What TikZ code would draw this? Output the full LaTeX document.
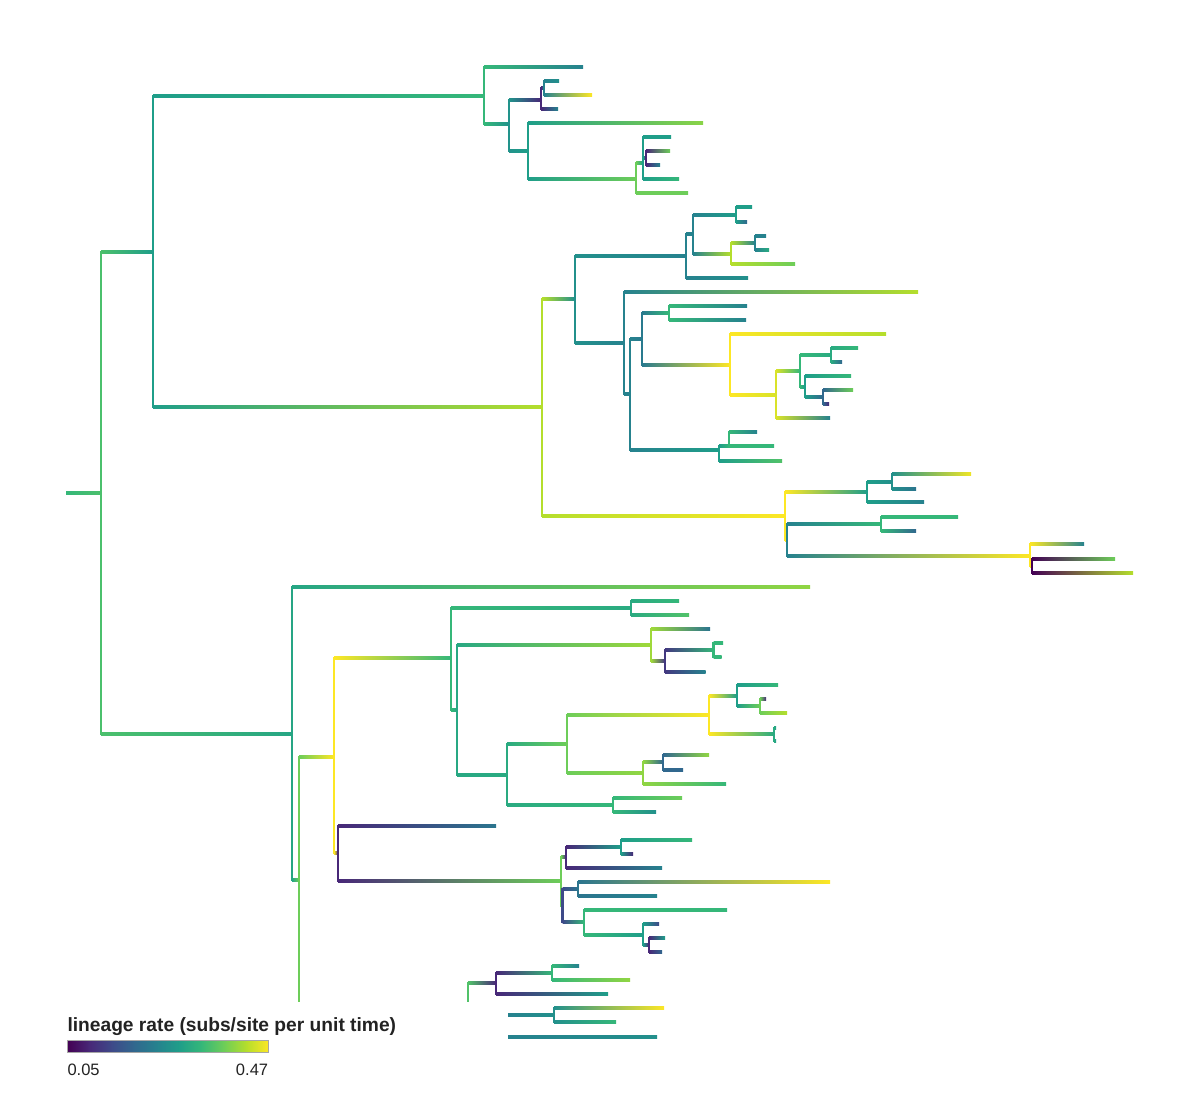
\documentclass[tikz,border=0pt]{standalone}
\usepackage{fontspec}
\setmainfont{Liberation Sans}
\usetikzlibrary{calc}
\definecolor{V0}{HTML}{440154}
\definecolor{V1}{HTML}{482878}
\definecolor{V2}{HTML}{3E4A89}
\definecolor{V3}{HTML}{31688E}
\definecolor{V4}{HTML}{26828E}
\definecolor{V5}{HTML}{1F9E89}
\definecolor{V6}{HTML}{35B779}
\definecolor{V7}{HTML}{6DCD59}
\definecolor{V8}{HTML}{B4DE2C}
\definecolor{V9}{HTML}{FDE725}
\definecolor{txt}{HTML}{222222}
\newcommand{\tn}[4]{\coordinate (#1) at (#2,#3);\colorlet{col-#1}{#4}}
\newcommand{\br}[2]{\draw[line width=2.2pt,color=col-#1,line cap=rect] (#1) -- (#1|-#2);%
\shade[left color=col-#1,right color=col-#2] ($(#1|-#2)+(0,-1.1)$) rectangle ($(#2)+(0,1.1)$);}
\newcommand{\vb}[2]{\draw[line width=2.2pt,color=col-#1,line cap=rect] (#1) -- (#2);}
\begin{document}
\begin{tikzpicture}[x=1pt,y=-1pt]
\useasboundingbox (0,0) rectangle (1200,1104);
% ---------- nodes ----------
\tn{root0}{66}{493}{V6}
\tn{r}{101}{493}{V6!60!V7}
\tn{a}{153}{252}{V5}
\tn{a1}{484}{96}{V6}
\tn{t1}{583}{67}{V4}
\tn{a1b}{509}{124}{V5!60!V4}
\tn{a1b1}{541}{100}{V1}
\tn{n544}{544}{88}{V4}
\tn{t2}{559}{81}{V4!50!V5}
\tn{t3}{592}{95}{V9}
\tn{t4}{558}{109}{V4}
\tn{a1b2}{528}{151}{V5}
\tn{t5}{703}{123}{V7!60!V8}
\tn{n636}{636}{179}{V7}
\tn{n643}{643}{163}{V5}
\tn{t6}{671}{137}{V5}
\tn{n646}{646}{158}{V1}
\tn{t7}{670}{151}{V7}
\tn{t8}{660}{165}{V4}
\tn{t9}{679}{179}{V6}
\tn{t10}{688}{193}{V7}
\tn{a2}{542}{407}{V8}
\tn{a2a}{575}{299}{V4!50!V5}
\tn{a2a1}{686}{256}{V4}
\tn{t11}{748}{278}{V4!50!V5}
\tn{n693}{693}{234}{V4}
\tn{n736}{736}{215}{V5}
\tn{t12}{752}{207}{V5}
\tn{t13}{747}{222}{V3}
\tn{n731}{731}{254}{V8}
\tn{n755}{755}{243}{V4}
\tn{t14}{766}{236}{V4}
\tn{t15}{769}{250}{V5!50!V6}
\tn{t16}{795}{264}{V7}
\tn{a2a2}{624}{343}{V4}
\tn{t17}{918}{292}{V8}
\tn{n630}{630}{394}{V4}
\tn{n642}{642}{339}{V4!70!V3}
\tn{n669}{669}{313}{V6}
\tn{t18}{747}{306}{V4}
\tn{t19}{746}{320}{V4}
\tn{n730}{730}{365}{V9}
\tn{t20}{886}{334}{V8}
\tn{n776}{776}{395}{V8!50!V9}
\tn{n800}{800}{371}{V6}
\tn{n831}{831}{355}{V5!50!V6}
\tn{t21}{858}{348}{V6}
\tn{t22}{842}{362}{V3}
\tn{n805}{805}{387}{V5}
\tn{t23}{851}{376}{V6}
\tn{n823}{823}{397}{V3}
\tn{t24}{853}{390}{V7}
\tn{t25}{829}{404}{V1}
\tn{t26}{830}{418}{V4}
\tn{n719}{719}{450}{V5}
\tn{n729}{729}{446}{V6}
\tn{t27}{757}{432}{V4}
\tn{t28}{774}{446}{V6}
\tn{t29}{782}{461}{V6!50!V7}
\tn{a2b}{785}{516}{V9}
\tn{n867}{867}{492}{V5}
\tn{n892}{892}{482}{V5!50!V4}
\tn{t30}{971}{474}{V9!80!V8}
\tn{t31}{916}{489}{V3!50!V4}
\tn{t32}{924}{502}{V4}
\tn{n787}{787}{540}{V4}
\tn{n881}{881}{524}{V6}
\tn{t33}{958}{517}{V6}
\tn{t34}{916}{531}{V3}
\tn{n1030}{1030}{556}{V9}
\tn{t35}{1084}{544}{V4}
\tn{n1032}{1032}{566}{V0}
\tn{t36}{1115}{559}{V7}
\tn{t37}{1133}{573}{V8}
\tn{b}{292}{734}{V5!70!V6}
\tn{t38}{810}{587}{V7!50!V8}
\tn{nb2}{299}{880}{V7}
\tn{cutb}{299}{1001}{V7}
\tn{n334}{334}{757}{V9}
\tn{n451}{451}{658}{V6}
\tn{n631}{631}{608}{V5!50!V6}
\tn{t39}{679}{601}{V6}
\tn{t40}{689}{615}{V6!50!V7}
\tn{n457}{457}{710}{V5!60!V6}
\tn{n651}{651}{645}{V8!70!V7}
\tn{t41}{710}{629}{V3!50!V4}
\tn{n665}{665}{661}{V1!50!V2}
\tn{n713}{713.5}{650}{V6}
\tn{t42}{723}{643}{V6}
\tn{t43}{721.5}{657}{V6}
\tn{t44}{705.6}{672}{V4}
\tn{n507}{507}{775}{V5!50!V6}
\tn{n567}{567}{744}{V7}
\tn{n709}{709}{715}{V9}
\tn{n737}{737}{696}{V5}
\tn{t45}{778}{685}{V6}
\tn{n760}{760}{706}{V7}
\tn{t46}{766}{699}{V1}
\tn{t47}{787}{713}{V8}
\tn{n774}{774}{734}{V5!50!V6}
\tn{t48}{776}{728}{V5}
\tn{t49}{776}{741}{V5}
\tn{n643b}{643}{773}{V7!50!V8}
\tn{n663}{663}{762}{V3}
\tn{t50}{709}{755}{V7!50!V8}
\tn{t51}{683}{770}{V3}
\tn{t52}{726}{784}{V6}
\tn{n613}{613}{805}{V6}
\tn{t53}{682}{798}{V7}
\tn{t54}{656}{812}{V4!50!V5}
\tn{n338}{338}{853}{V1}
\tn{t55}{496}{826}{V3!50!V4}
\tn{n561}{561}{881}{V7}
\tn{n566}{566}{857}{V1}
\tn{n621}{621}{847}{V5}
\tn{t56}{692}{840}{V6}
\tn{t57}{633}{854}{V1}
\tn{t58}{662}{868}{V4}
\tn{n562}{562.5}{906}{V2}
\tn{n578}{578}{889}{V3!50!V4}
\tn{t59}{830}{882}{V9}
\tn{t60}{657}{896}{V4}
\tn{n584}{584}{922}{V6}
\tn{t61}{727}{910}{V6}
\tn{n643c}{643}{935}{V5}
\tn{t62}{659}{924}{V2}
\tn{n649}{649}{945}{V1}
\tn{t63}{665}{938}{V5}
\tn{t64}{662}{952}{V3}
\tn{f1}{468}{983}{V6!50!V7}
\tn{f1b}{468}{1001}{V6!50!V7}
\tn{n496}{496}{983}{V1}
\tn{n552}{552}{973}{V6}
\tn{t65}{579}{966}{V4}
\tn{t66}{630}{980}{V7!50!V8}
\tn{t67}{608}{994}{V5}
\tn{f2}{508}{1015}{V4}
\tn{n554}{554}{1015}{V4!50!V5}
\tn{t68}{664}{1008}{V9}
\tn{t69}{616}{1022}{V6}
\tn{f3}{508}{1037}{V4}
\tn{t70}{657}{1037}{V4!50!V5}
% ---------- branches ----------
\br{root0}{r}\br{r}{a}\br{r}{b}
\br{a}{a1}\br{a}{a2}
\br{a1}{t1}\br{a1}{a1b}
\br{a1b}{a1b1}\br{a1b}{a1b2}
\br{a1b1}{n544}\br{a1b1}{t4}
\br{n544}{t2}\br{n544}{t3}
\br{a1b2}{t5}\br{a1b2}{n636}
\br{n636}{n643}\br{n636}{t10}
\br{n643}{t6}\br{n643}{n646}\br{n643}{t9}
\br{n646}{t7}\br{n646}{t8}
\br{a2}{a2a}\br{a2}{a2b}
\br{a2a}{a2a1}\br{a2a}{a2a2}
\br{a2a1}{n693}\br{a2a1}{t11}
\br{n693}{n736}\br{n693}{n731}
\br{n736}{t12}\br{n736}{t13}
\br{n731}{n755}\br{n731}{t16}
\br{n755}{t14}\br{n755}{t15}
\br{a2a2}{t17}\br{a2a2}{n630}
\br{n630}{n642}\br{n630}{n719}
\br{n642}{n669}\br{n642}{n730}
\br{n669}{t18}\br{n669}{t19}
\br{n730}{t20}\br{n730}{n776}
\br{n776}{n800}\br{n776}{t26}
\br{n800}{n831}\br{n800}{n805}
\br{n831}{t21}\br{n831}{t22}
\br{n805}{t23}\br{n805}{n823}
\br{n823}{t24}\br{n823}{t25}
\br{n719}{n729}\br{n719}{t29}
\br{n729}{t27}\br{n729}{t28}
\br{a2b}{n867}\br{a2b}{n787}
\br{n867}{n892}\br{n867}{t32}
\br{n892}{t30}\br{n892}{t31}
\br{n787}{n881}\br{n787}{n1030}
\br{n881}{t33}\br{n881}{t34}
\br{n1030}{t35}\br{n1030}{n1032}
\br{n1032}{t36}\br{n1032}{t37}
\br{b}{t38}\br{b}{nb2}
\vb{nb2}{cutb}
\br{nb2}{n334}
\br{n334}{n451}\br{n334}{n338}
\br{n451}{n631}\br{n451}{n457}
\br{n631}{t39}\br{n631}{t40}
\br{n457}{n651}\br{n457}{n507}
\br{n651}{t41}\br{n651}{n665}
\br{n665}{n713}\br{n665}{t44}
\br{n713}{t42}\br{n713}{t43}
\br{n507}{n567}\br{n507}{n613}
\br{n567}{n709}\br{n567}{n643b}
\br{n709}{n737}\br{n709}{n774}
\br{n737}{t45}\br{n737}{n760}
\br{n760}{t46}\br{n760}{t47}
\br{n774}{t48}\br{n774}{t49}
\br{n643b}{n663}\br{n643b}{t52}
\br{n663}{t50}\br{n663}{t51}
\br{n613}{t53}\br{n613}{t54}
\br{n338}{t55}\br{n338}{n561}
\br{n561}{n566}\br{n561}{n562}
\br{n566}{n621}\br{n566}{t58}
\br{n621}{t56}\br{n621}{t57}
\br{n562}{n578}\br{n562}{n584}
\br{n578}{t59}\br{n578}{t60}
\br{n584}{t61}\br{n584}{n643c}
\br{n643c}{t62}\br{n643c}{n649}
\br{n649}{t63}\br{n649}{t64}
\vb{f1}{f1b}
\br{f1}{n496}
\br{n496}{n552}\br{n496}{t67}
\br{n552}{t65}\br{n552}{t66}
\br{f2}{n554}
\br{n554}{t68}\br{n554}{t69}
\br{f3}{t70}
% ---------- legend ----------
\node[anchor=base west,inner sep=0pt,text=txt,font=\bfseries\fontsize{19.2}{23}\selectfont] (title) at (67.3,1031.7) {lineage rate (subs/site per unit time)};
\foreach \i/\ca/\cb in {0/V0/V1,1/V1/V2,2/V2/V3,3/V3/V4,4/V4/V5,5/V5/V6,6/V6/V7,7/V7/V8,8/V8/V9}
  \shade[left color=\ca,right color=\cb] ({67.3+\i*22.333},1040) rectangle ({67.3+(\i+1)*22.333+0.4},1052.7);
\draw[black!35,line width=0.8pt] (67.3,1040) rectangle (268.3,1052.7);
\node[anchor=base west,inner sep=0pt,text=txt,font=\fontsize{16.5}{19}\selectfont] (lo) at (67.3,1075) {0.05};
\node[anchor=base east,inner sep=0pt,text=txt,font=\fontsize{16.5}{19}\selectfont] (hi) at (268.3,1075) {0.47};
\end{tikzpicture}
\end{document}
